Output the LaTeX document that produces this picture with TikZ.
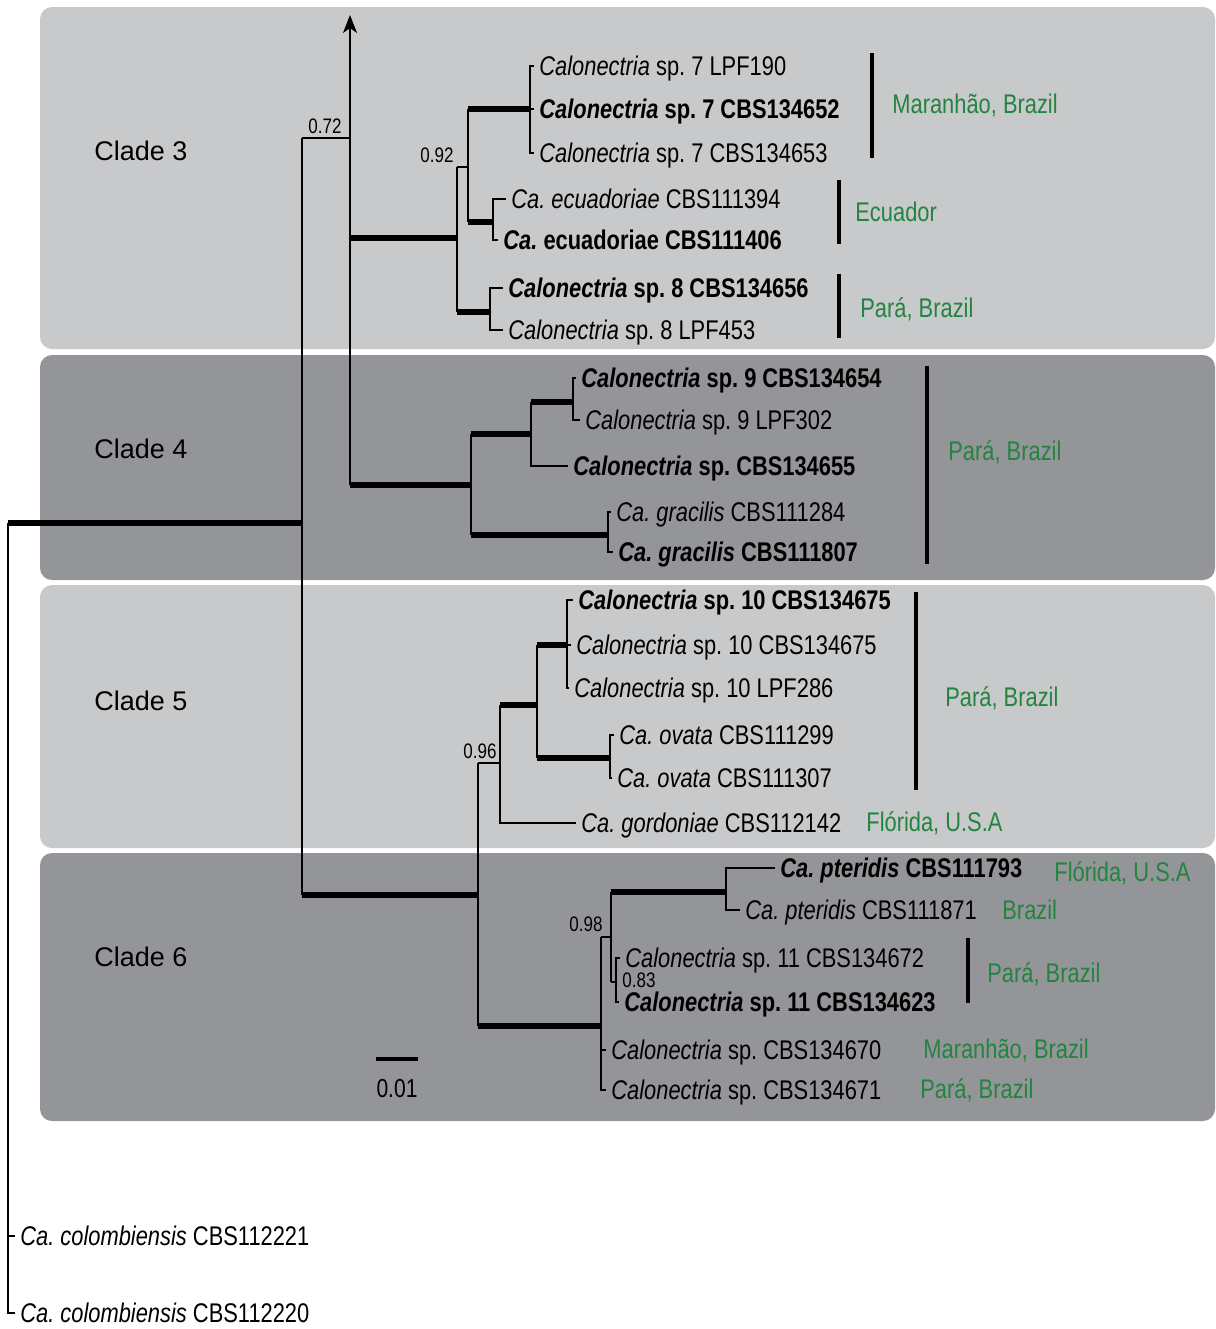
\documentclass[tikz,border=0pt]{standalone}
\usepackage{fontspec}
\setmainfont{Liberation Sans}
\newfontfamily\narrowsans[FakeStretch=0.81]{Liberation Sans}
\usepackage{tikz}
\usetikzlibrary{arrows.meta}
\definecolor{lightbox}{RGB}{200,201,203}
\definecolor{darkbox}{RGB}{148,149,152}
\definecolor{locgreen}{RGB}{34,132,62}
\frenchspacing

\begin{document}
\begin{tikzpicture}[x=0.5pt,y=-0.5pt,
  br/.style={line width=0.8pt},
  thk/.style={line width=2.6pt},
  bar/.style={line width=1.6pt},
  tip/.style={anchor=west,inner xsep=2.5pt,inner ysep=0pt,text height=9.6pt,text depth=0pt,
    font=\narrowsans\fontsize{13.5}{15}\selectfont},
  loc/.style={tip,inner xsep=0pt,text=locgreen},
  ppval/.style={inner sep=0pt,font=\narrowsans\fontsize{10.5}{12}\selectfont},
  clade/.style={anchor=west,inner sep=0pt,text height=9.6pt,text depth=0pt,font=\fontsize{13.5}{15}\selectfont},
  box/.style={rounded corners=6pt}]
\fill[white] (0,0) rectangle (1216,1329);
\useasboundingbox (0,0) rectangle (1216,1329);
\fill[lightbox,box] (40,7) rectangle (1215,349);
\fill[darkbox,box] (40,355) rectangle (1215,580);
\fill[lightbox,box] (40,585) rectangle (1215,848);
\fill[darkbox,box] (40,853) rectangle (1215,1121);
\node[clade] (cl3) at (94,151) {Clade 3};
\node[clade] (cl4) at (94,449) {Clade 4};
\node[clade] (cl5) at (94,701) {Clade 5};
\node[clade] (cl6) at (94,957) {Clade 6};
% internal nodes
\coordinate (root) at (8,523);
\coordinate (n1) at (302,523);
\coordinate (n2) at (350,138);
\coordinate (top) at (350,15);
\coordinate (c3) at (457,238);
\coordinate (c3a) at (468,167);
\coordinate (c3b) at (530,109);
\coordinate (c3c) at (493,222);
\coordinate (c3d) at (490,312);
\coordinate (c4) at (471,485);
\coordinate (c4b) at (531,434);
\coordinate (c4c) at (573,402);
\coordinate (c4d) at (608,535);
\coordinate (n5) at (478,895);
\coordinate (c5) at (500,763);
\coordinate (c5b) at (537,705);
\coordinate (c5c) at (567,645);
\coordinate (c5d) at (610,758);
\coordinate (c6) at (601,1026);
\coordinate (c6b) at (611,937);
\coordinate (c6c) at (726,892);
\coordinate (c6d) at (616,982);
% tips
\node[tip] (t31) at (534,66) {\textit{Calonectria} sp. 7 LPF190};
\node[tip] (t32) at (534,109) {\textbf{\textit{Calonectria} sp. 7 CBS134652}};
\node[tip] (t33) at (534,153) {\textit{Calonectria} sp. 7 CBS134653};
\node[tip] (t34) at (506,199) {\textit{Ca. ecuadoriae} CBS111394};
\node[tip] (t35) at (498,240) {\textbf{\textit{Ca.} ecuadoriae CBS111406}};
\node[tip] (t36) at (503,288) {\textbf{\textit{Calonectria} sp. 8 CBS134656}};
\node[tip] (t37) at (503,330) {\textit{Calonectria} sp. 8 LPF453};
\node[tip] (t41) at (576,378) {\textbf{\textit{Calonectria} sp. 9 CBS134654}};
\node[tip] (t42) at (580,420) {\textit{Calonectria} sp. 9 LPF302};
\node[tip] (t43) at (568,466) {\textbf{\textit{Calonectria} sp. CBS134655}};
\node[tip] (t44) at (611,512) {\textit{Ca. gracilis} CBS111284};
\node[tip] (t45) at (613,552) {\textbf{\textit{Ca. gracilis} CBS111807}};
\node[tip] (t51) at (573,600) {\textbf{\textit{Calonectria} sp. 10 CBS134675}};
\node[tip] (t52) at (571,645) {\textit{Calonectria} sp. 10 CBS134675};
\node[tip] (t53) at (569,688) {\textit{Calonectria} sp. 10 LPF286};
\node[tip] (t54) at (614,735) {\textit{Ca. ovata} CBS111299};
\node[tip] (t55) at (612,778) {\textit{Ca. ovata} CBS111307};
\node[tip] (t56) at (576,823) {\textit{Ca. gordoniae} CBS112142};
\node[tip] (t61) at (775,868) {\textbf{\textit{Ca. pteridis} CBS111793}};
\node[tip] (t62) at (740,910) {\textit{Ca. pteridis} CBS111871};
\node[tip] (t63) at (620,958) {\textit{Calonectria} sp. 11 CBS134672};
\node[tip] (t64) at (619,1002) {\textbf{\textit{Calonectria} sp. 11 CBS134623}};
\node[tip] (t65) at (606,1050) {\textit{Calonectria} sp. CBS134670};
\node[tip] (t66) at (606,1090) {\textit{Calonectria} sp. CBS134671};
\node[tip] (t01) at (15,1236) {\textit{Ca. colombiensis} CBS112221};
\node[tip] (t02) at (15,1313) {\textit{Ca. colombiensis} CBS112220};
% root and backbone
\draw[thk] (root) -- (n1);
\draw[line width=1pt] (root) |- (t02.west);
\draw[br] (root |- t01.west) -- (t01.west);
\draw[br] (n1 |- n2) -- (n1 |- n5);
\draw[br] (n1 |- n2) -- (n2);
\draw[thk] (n1 |- n5) -- (n5);
\draw[br,-{Stealth[length=9pt,width=7pt,inset=2.5pt]}] (n2 |- c4) -- (top);
\draw[thk] (n2 |- c3) -- (c3);
\draw[thk] (n2 |- c4) -- (c4);
% clade 3
\draw[br] (c3 |- c3a) -- (c3 |- c3d);
\draw[br] (c3 |- c3a) -- (c3a);
\draw[thk] (c3 |- c3d) -- (c3d);
\draw[br] (c3a |- c3b) -- (c3a |- c3c);
\draw[thk] (c3a |- c3b) -- (c3b);
\draw[thk] (c3a |- c3c) -- (c3c);
\draw[br] (t31.west) -| (c3b) |- (t33.west);
\draw[br] (c3b) -- (t32.west);
\draw[br] (t34.west) -| (c3c) |- (t35.west);
\draw[br] (t36.west) -| (c3d) |- (t37.west);
% clade 4
\draw[br] (c4 |- c4b) -- (c4 |- c4d);
\draw[thk] (c4 |- c4b) -- (c4b);
\draw[thk] (c4 |- c4d) -- (c4d);
\draw[br] (c4b |- c4c) -- (c4b |- t43.west) -- (t43.west);
\draw[thk] (c4b |- c4c) -- (c4c);
\draw[br] (t41.west) -| (c4c) |- (t42.west);
\draw[br] (t44.west) -| (c4d) |- (t45.west);
% clades 5 and 6
\draw[br] (n5 |- c5) -- (n5 |- c6);
\draw[br] (n5 |- c5) -- (c5);
\draw[thk] (n5 |- c6) -- (c6);
\draw[br] (c5 |- c5b) -- (c5 |- t56.west) -- (t56.west);
\draw[thk] (c5 |- c5b) -- (c5b);
\draw[br] (c5b |- c5c) -- (c5b |- c5d);
\draw[thk] (c5b |- c5c) -- (c5c);
\draw[thk] (c5b |- c5d) -- (c5d);
\draw[br] (t51.west) -| (c5c) |- (t53.west);
\draw[br] (c5c) -- (t52.west);
\draw[br] (t54.west) -| (c5d) |- (t55.west);
\draw[br] (c6 |- c6b) -- (c6 |- t66.west) -- (t66.west);
\draw[br] (c6 |- t65.west) -- (t65.west);
\draw[br] (c6 |- c6b) -- (c6b);
\draw[br] (c6b |- c6c) -- (c6b |- c6d);
\draw[thk] (c6b |- c6c) -- (c6c);
\draw[br] (c6b |- c6d) -- (c6d);
\draw[br] (t61.west) -| (c6c) |- (t62.west);
\draw[br] (t63.west) -| (c6d) |- (t64.west);
% support values
\node[ppval] (pp1) at (325,126) {0.72};
\node[ppval] (pp2) at (437,155) {0.92};
\node[ppval] (pp3) at (480,751) {0.96};
\node[ppval] (pp4) at (586,924) {0.98};
\node[ppval] (pp5) at (639,980) {0.83};
% localities
\draw[bar] (872,53) -- (872,158);
\node[loc] (l1) at (892,104) {Maranhão, Brazil};
\draw[bar] (839,180) -- (839,244);
\node[loc] (l2) at (855,212) {Ecuador};
\draw[bar] (839,274) -- (839,338);
\node[loc] (l3) at (860,308) {Pará, Brazil};
\draw[bar] (927,366) -- (927,564);
\node[loc] (l4) at (948,451) {Pará, Brazil};
\draw[bar] (916,592) -- (916,790);
\node[loc] (l5) at (945,697) {Pará, Brazil};
\node[loc] (l6) at (866,822) {Flórida, U.S.A};
\node[loc] (l7) at (1054,872) {Flórida, U.S.A};
\node[loc] (l8) at (1002,910) {Brazil};
\draw[bar] (968,938) -- (968,1003);
\node[loc] (l9) at (987,973) {Pará, Brazil};
\node[loc] (l10) at (923,1049) {Maranhão, Brazil};
\node[loc] (l11) at (920,1089) {Pará, Brazil};
% scale
\coordinate (sb1) at (376,1059);
\coordinate (sb2) at (418,1059);
\draw[bar] (sb1) -- (sb2);
\node[ppval,font=\narrowsans\fontsize{13}{15}\selectfont] (sbl) at (397,1089) {0.01};
\end{tikzpicture}
\end{document}
